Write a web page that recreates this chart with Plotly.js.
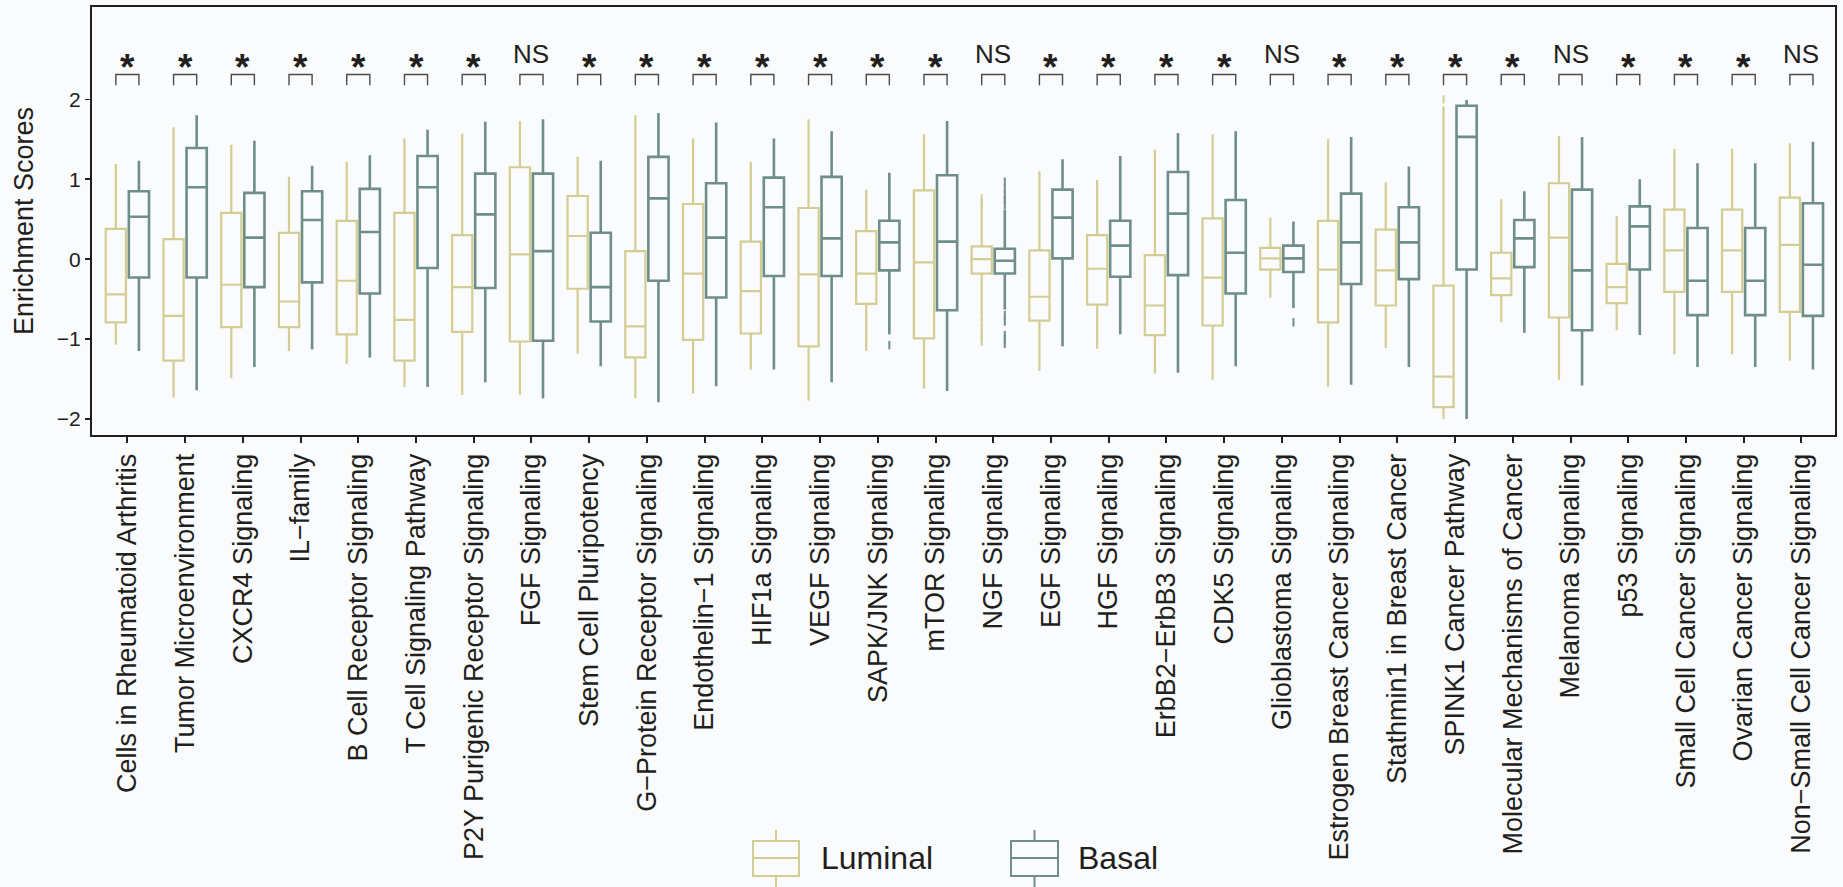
<!DOCTYPE html>
<html>
<head>
<meta charset="utf-8">
<script src="https://cdn.plot.ly/plotly-3.0.1.min.js"></script>
<style>
  html, body { margin: 0; padding: 0; background: #f9fbfc; }
  #chart { width: 1843px; height: 887px; }
</style>
</head>
<body>
<div id="chart"></div>
<script>
// Pathway names (x categories)
const categories = [
  "Cells in Rheumatoid Arthritis", "Tumor Microenvironment", "CXCR4 Signaling", "IL\u2212family",
  "B Cell Receptor Signaling", "T Cell Signaling Pathway", "P2Y Purigenic Receptor Signaling",
  "FGF Signaling", "Stem Cell Pluripotency", "G\u2212Protein Receptor Signaling",
  "Endothelin\u22121 Signaling", "HIF1a Signaling", "VEGF Signaling", "SAPK/JNK Signaling",
  "mTOR Signaling", "NGF Signaling", "EGF Signaling", "HGF Signaling", "ErbB2\u2212ErbB3 Signaling",
  "CDK5 Signaling", "Glioblastoma Signaling", "Estrogen Breast Cancer Signaling",
  "Stathmin1 in Breast Cancer", "SPINK1 Cancer Pathway", "Molecular Mechanisms of Cancer",
  "Melanoma Signaling", "p53 Signaling", "Small Cell Cancer Signaling", "Ovarian Cancer Signaling",
  "Non\u2212Small Cell Cancer Signaling"
];

// Significance of the Luminal vs Basal comparison
const significance = ["*","*","*","*","*","*","*","NS","*","*","*","*","*","*","*","NS",
                      "*","*","*","*","NS","*","*","*","*","NS","*","*","*","NS"];

// Luminal box statistics
const lumLow  = [-1.07,-1.73,-1.49,-1.15,-1.31,-1.60,-1.70,-1.70,-1.18,-1.74,-1.68,-1.38,-1.77,-1.15,-1.62,-0.68,-1.40,-1.12,-1.43,-1.51,-0.48,-1.60,-1.11,-2.00,-0.79,-1.51,-0.89,-1.19,-1.19,-1.27];
const lumQ1   = [-0.79,-1.27,-0.85,-0.85,-0.94,-1.27,-0.91,-1.03,-0.37,-1.23,-1.01,-0.93,-1.09,-0.56,-0.99,-0.18,-0.77,-0.57,-0.95,-0.83,-0.13,-0.79,-0.58,-1.85,-0.45,-0.73,-0.55,-0.41,-0.41,-0.66];
const lumMed  = [-0.44,-0.71,-0.32,-0.53,-0.27,-0.76,-0.35, 0.06, 0.29,-0.84,-0.18,-0.40,-0.19,-0.18,-0.04, 0.00,-0.47,-0.12,-0.58,-0.23, 0.01,-0.13,-0.14,-1.47,-0.24, 0.27,-0.35, 0.11, 0.11, 0.18];
const lumQ3   = [ 0.38, 0.25, 0.58, 0.33, 0.48, 0.58, 0.30, 1.15, 0.79, 0.10, 0.69, 0.22, 0.64, 0.35, 0.86, 0.16, 0.11, 0.30, 0.05, 0.51, 0.14, 0.48, 0.37,-0.33, 0.08, 0.95,-0.06, 0.62, 0.62, 0.77];
const lumHigh = [ 1.19, 1.65, 1.43, 1.03, 1.22, 1.51, 1.57, 1.73, 1.28, 1.80, 1.51, 1.22, 1.75, 0.87, 1.56, 0.62, 1.10, 0.99, 1.37, 1.56, 0.52, 1.50, 0.96, 1.91, 0.75, 1.54, 0.54, 1.38, 1.38, 1.45];

// Basal box statistics
const basLow  = [-1.15,-1.64,-1.35,-1.13,-1.23,-1.60,-1.54,-1.74,-1.34,-1.79,-1.59,-1.38,-1.54,-0.94,-1.65,-0.63,-1.09,-0.94,-1.42,-1.34,-0.61,-1.57,-1.35,-2.00,-0.92,-1.58,-0.95,-1.35,-1.35,-1.38];
const basQ1   = [-0.23,-0.23,-0.35,-0.29,-0.43,-0.11,-0.36,-1.02,-0.78,-0.27,-0.48,-0.21,-0.21,-0.14,-0.64,-0.18, 0.01,-0.22,-0.20,-0.43,-0.16,-0.31,-0.25,-0.13,-0.10,-0.89,-0.13,-0.70,-0.70,-0.71];
const basMed  = [ 0.53, 0.90, 0.27, 0.49, 0.34, 0.90, 0.56, 0.10,-0.35, 0.76, 0.27, 0.65, 0.26, 0.21, 0.22,-0.02, 0.52, 0.17, 0.57, 0.08, 0.01, 0.21, 0.21, 1.53, 0.26,-0.14, 0.41,-0.27,-0.27,-0.07];
const basQ3   = [ 0.85, 1.39, 0.83, 0.85, 0.88, 1.29, 1.07, 1.07, 0.33, 1.28, 0.95, 1.02, 1.03, 0.48, 1.05, 0.13, 0.87, 0.48, 1.09, 0.74, 0.17, 0.82, 0.65, 1.92, 0.49, 0.87, 0.66, 0.39, 0.39, 0.70];
const basHigh = [ 1.23, 1.80, 1.48, 1.17, 1.30, 1.62, 1.72, 1.75, 1.23, 1.83, 1.71, 1.51, 1.60, 1.08, 1.73, 0.62, 1.25, 1.29, 1.58, 1.60, 0.47, 1.53, 1.16, 1.99, 0.85, 1.53, 1.00, 1.20, 1.20, 1.47];

// Outlying samples (category index, score)
const lumOutCat = [15, 15, 15, 15, 15, 15, 15, 15, 15, 23];
const lumOutVal = [0.76, 0.70, 0.66, -0.72, -0.78, -0.86, -0.92, -0.98, -1.03, 2.00];
const basOutCat = [13, 15, 15, 15, 15, 15, 15, 15, 15, 15, 15, 20];
const basOutVal = [-1.075, 0.68, 0.74, 0.80, 0.88, 0.97, -0.70, -0.78, -0.95, -1.00, -1.06, -0.79];

const groupNames = ["Luminal", "Basal"];
const lumColor = "#d3cd94";
const basColor = "#6f8e88";
const inkColor = "#221e1b";
const bgColor = "#f9fbfc";
const FONT = "Liberation Sans, Arial, Helvetica, sans-serif";

// Layout geometry (pixels)
const W = 1843, H = 887;
const M = { l: 92, r: 8, t: 7, b: 452 };
const plotW = W - M.l - M.r, plotH = H - M.t - M.b;
const paperX = px => (px - M.l) / plotW;
const paperY = py => (H - M.b - py) / plotH;

const OFFSET = 0.2;      // half distance between the two boxes of a pair
const BOX_W = 0.35;      // box width in category units
const idx = categories.map((_, i) => i);

function boxTrace(name, shift, low, q1, med, q3, high, color, lw) {
  return {
    type: "box", name: name, orientation: "v",
    x: idx.map(i => i + shift),
    lowerfence: low, q1: q1, median: med, q3: q3, upperfence: high,
    width: BOX_W, whiskerwidth: 0, boxpoints: false,
    line: { color: color, width: lw },
    fillcolor: "rgba(0,0,0,0)",
    showlegend: false, hoverinfo: "y"
  };
}

function outlierTrace(cats, vals, shift, color) {
  return {
    type: "scatter", mode: "markers",
    x: cats.map(c => c + shift), y: vals,
    marker: { symbol: "line-ns-open", size: 6, color: color, line: { color: color, width: 2 } },
    showlegend: false, hoverinfo: "y"
  };
}

// Comparison brackets joining each pair of boxes
const BR_TOP = 2.31, BR_BOT = 2.175;
const brX = [], brY = [];
idx.forEach(i => {
  brX.push(i - OFFSET, i - OFFSET, i + OFFSET, i + OFFSET, null);
  brY.push(BR_BOT, BR_TOP, BR_TOP, BR_BOT, null);
});
const bracketTrace = {
  type: "scatter", mode: "lines", x: brX, y: brY,
  line: { color: "#4d4945", width: 1.4 },
  showlegend: false, hoverinfo: "skip"
};

const traces = [
  boxTrace(groupNames[0], -OFFSET, lumLow, lumQ1, lumMed, lumQ3, lumHigh, lumColor, 2.2),
  boxTrace(groupNames[1],  OFFSET, basLow, basQ1, basMed, basQ3, basHigh, basColor, 2.6),
  outlierTrace(lumOutCat, lumOutVal, -OFFSET, lumColor),
  outlierTrace(basOutCat, basOutVal,  OFFSET, basColor),
  bracketTrace
];

// Significance labels above the brackets
const annotations = significance.map((s, i) => (s === "*") ? {
  x: i, y: 2.40, xref: "x", yref: "y", text: "<b>*</b>", showarrow: false,
  xanchor: "center", yanchor: "middle",
  font: { family: FONT, size: 37, color: inkColor }
} : {
  x: i, y: 2.57, xref: "x", yref: "y", text: s, showarrow: false,
  xanchor: "center", yanchor: "middle",
  font: { family: FONT, size: 26, color: inkColor }
});

// Y axis title
annotations.push({
  x: paperX(24), y: 0.5, xref: "paper", yref: "paper",
  text: "Enrichment Scores", textangle: -90, showarrow: false,
  xanchor: "center", yanchor: "middle",
  font: { family: FONT, size: 27, color: inkColor }
});

// Legend keys drawn as box glyphs
const shapes = [];
const legendItems = [
  { name: groupNames[0], color: lumColor, x0: 753, x1: 799, textX: 819 },
  { name: groupNames[1], color: basColor, x0: 1011, x1: 1058, textX: 1076 }
];
const KEY_TOP = 841, KEY_BOT = 876, KEY_MID = 858, WH_TOP = 830, WH_BOT = 887;
legendItems.forEach(it => {
  const cx = (it.x0 + it.x1) / 2;
  const ln = { color: it.color, width: 2 };
  shapes.push({ type: "rect", xref: "paper", yref: "paper",
    x0: paperX(it.x0), x1: paperX(it.x1), y0: paperY(KEY_BOT), y1: paperY(KEY_TOP), line: ln });
  shapes.push({ type: "line", xref: "paper", yref: "paper",
    x0: paperX(it.x0), x1: paperX(it.x1), y0: paperY(KEY_MID), y1: paperY(KEY_MID), line: ln });
  shapes.push({ type: "line", xref: "paper", yref: "paper",
    x0: paperX(cx), x1: paperX(cx), y0: paperY(WH_TOP), y1: paperY(KEY_TOP), line: ln });
  shapes.push({ type: "line", xref: "paper", yref: "paper",
    x0: paperX(cx), x1: paperX(cx), y0: paperY(KEY_BOT), y1: paperY(WH_BOT), line: ln });
  annotations.push({
    x: paperX(it.textX), y: paperY(KEY_MID), xref: "paper", yref: "paper",
    text: it.name, showarrow: false, xanchor: "left", yanchor: "middle",
    font: { family: FONT, size: 32, color: inkColor }
  });
});

const layout = {
  width: W, height: H,
  margin: { l: M.l, r: M.r, t: M.t, b: M.b, pad: 0 },
  paper_bgcolor: bgColor, plot_bgcolor: bgColor,
  font: { family: FONT, color: inkColor },
  boxmode: "overlay",
  showlegend: false,
  xaxis: {
    range: [-0.613, 29.582], tickmode: "array", tickvals: idx, ticktext: categories,
    tickangle: -90, ticks: "outside", ticklen: 6, tickwidth: 2, tickcolor: inkColor,
    tickfont: { family: FONT, size: 27, color: inkColor },
    showline: true, linecolor: inkColor, linewidth: 2, mirror: true,
    showgrid: false, zeroline: false, automargin: false
  },
  yaxis: {
    range: [-2.2, 3.155], tickmode: "array", tickvals: [-2, -1, 0, 1, 2],
    ticks: "outside", ticklen: 5, tickwidth: 1.5, tickcolor: inkColor,
    tickfont: { family: FONT, size: 21, color: inkColor },
    showline: true, linecolor: inkColor, linewidth: 2, mirror: true,
    showgrid: false, zeroline: false, automargin: false
  },
  annotations: annotations,
  shapes: shapes
};

Plotly.newPlot("chart", traces, layout, { staticPlot: true, displayModeBar: false });
</script>
</body>
</html>
